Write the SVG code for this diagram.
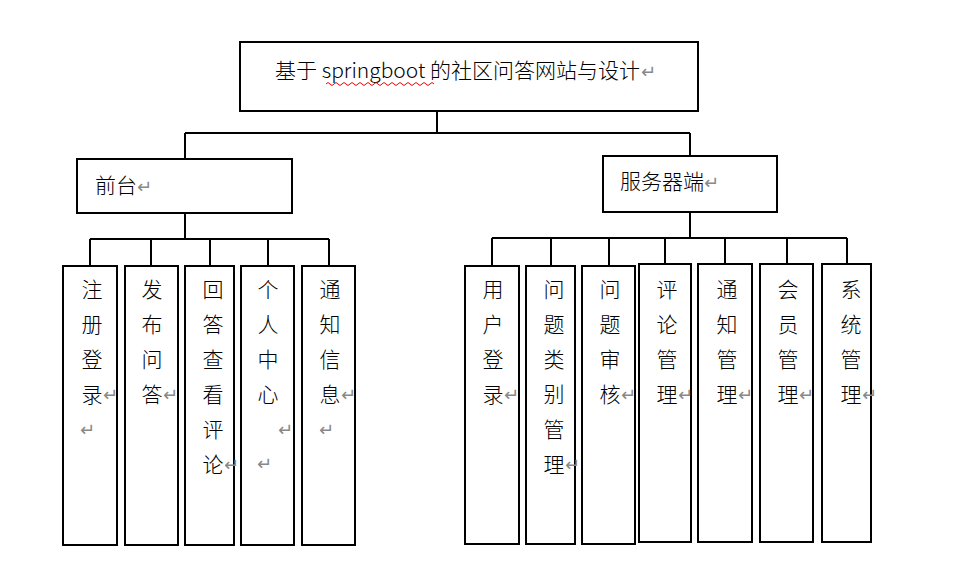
<svg xmlns="http://www.w3.org/2000/svg" width="955" height="564" viewBox="0 0 955 564">
<style>
.b{fill:#fff;stroke:#000;stroke-width:2}
.c{fill:none;stroke:#000;stroke-width:2}
.t{font-family:"Noto Sans CJK SC","Liberation Sans",sans-serif;font-size:21px;font-weight:300;fill:#000;text-anchor:middle}
.h{font-family:"Noto Sans CJK SC","Liberation Sans",sans-serif;font-size:21px;font-weight:300;fill:#000}
.r{font-family:"DejaVu Sans",sans-serif;font-size:18px;font-weight:400;fill:#888}
</style>
<rect width="955" height="564" fill="#fff"/>
<g id="connectors">
<path class="c" d="M437 111V133M185 133H690M185 133V159M690 133V156"/>
<path class="c" d="M185 213V239M90 239H329M90 239V266M151 239V266M210 239V266M268 239V266M329 239V266"/>
<path class="c" d="M690 212V238M492 238H847M492 238V266M551 238V266M609 238V266M665 238V264M725 238V264M787 238V264M847 238V264"/>
</g>
<g id="root"><rect class="b" x="240" y="42" width="458" height="69"/>
<text class="h" x="275" y="78">基于 springboot 的社区问答网站与设计<tspan class="r" dx="1">↵</tspan></text>
<path d="M326 84q2-3 4 0t4 0 4 0 4 0 4 0 4 0 4 0 4 0 4 0 4 0 4 0 4 0 4 0 4 0 4 0 4 0 4 0 4 0 4 0 4 0 4 0 4 0 4 0 4 0 4 0 4 0 4 0" fill="none" stroke="#e00" stroke-width="1"/></g>
<g id="frontend"><rect class="b" x="77" y="159" width="215" height="54"/><text class="h" x="95" y="193">前台<tspan class="r">↵</tspan></text></g>
<g id="server"><rect class="b" x="603" y="156" width="174" height="56"/><text class="h" x="620" y="189">服务器端<tspan class="r">↵</tspan></text></g>
<g id="n1"><rect class="b" x="63" y="266" width="54" height="279"/><text class="t"><tspan x="92" y="297">注</tspan><tspan x="92" dy="35">册</tspan><tspan x="92" dy="35">登</tspan><tspan x="92" dy="35">录</tspan></text><text class="r" x="103" y="401">↵</text><text class="r" x="80" y="436">↵</text></g>
<g id="n2"><rect class="b" x="125" y="266" width="53" height="279"/><text class="t"><tspan x="152" y="297">发</tspan><tspan x="152" dy="35">布</tspan><tspan x="152" dy="35">问</tspan><tspan x="152" dy="35">答</tspan></text><text class="r" x="163" y="401">↵</text></g>
<g id="n3"><rect class="b" x="185" y="266" width="49" height="279"/><text class="t"><tspan x="213" y="297">回</tspan><tspan x="213" dy="35">答</tspan><tspan x="213" dy="35">查</tspan><tspan x="213" dy="35">看</tspan><tspan x="213" dy="35">评</tspan><tspan x="213" dy="35">论</tspan></text><text class="r" x="224" y="471">↵</text></g>
<g id="n4"><rect class="b" x="241" y="266" width="53" height="279"/><text class="t"><tspan x="268" y="297">个</tspan><tspan x="268" dy="35">人</tspan><tspan x="268" dy="35">中</tspan><tspan x="268" dy="35">心</tspan></text><text class="r" x="278" y="436">↵</text><text class="r" x="257" y="470">↵</text></g>
<g id="n5"><rect class="b" x="302" y="266" width="53" height="279"/><text class="t"><tspan x="330" y="297">通</tspan><tspan x="330" dy="35">知</tspan><tspan x="330" dy="35">信</tspan><tspan x="330" dy="35">息</tspan></text><text class="r" x="341" y="401">↵</text><text class="r" x="319" y="436">↵</text></g>
<g id="s1"><rect class="b" x="465" y="266" width="54" height="278"/><text class="t"><tspan x="493" y="297">用</tspan><tspan x="493" dy="35">户</tspan><tspan x="493" dy="35">登</tspan><tspan x="493" dy="35">录</tspan></text><text class="r" x="504" y="401">↵</text></g>
<g id="s2"><rect class="b" x="526" y="266" width="49" height="278"/><text class="t"><tspan x="554" y="297">问</tspan><tspan x="554" dy="35">题</tspan><tspan x="554" dy="35">类</tspan><tspan x="554" dy="35">别</tspan><tspan x="554" dy="35">管</tspan><tspan x="554" dy="35">理</tspan></text><text class="r" x="565" y="471">↵</text></g>
<g id="s3"><rect class="b" x="582" y="266" width="53" height="278"/><text class="t"><tspan x="610" y="297">问</tspan><tspan x="610" dy="35">题</tspan><tspan x="610" dy="35">审</tspan><tspan x="610" dy="35">核</tspan></text><text class="r" x="621" y="401">↵</text></g>
<g id="s4"><rect class="b" x="639" y="264" width="52" height="278"/><text class="t"><tspan x="667" y="297">评</tspan><tspan x="667" dy="35">论</tspan><tspan x="667" dy="35">管</tspan><tspan x="667" dy="35">理</tspan></text><text class="r" x="678" y="401">↵</text></g>
<g id="s5"><rect class="b" x="698" y="264" width="54" height="278"/><text class="t"><tspan x="727" y="297">通</tspan><tspan x="727" dy="35">知</tspan><tspan x="727" dy="35">管</tspan><tspan x="727" dy="35">理</tspan></text><text class="r" x="738" y="401">↵</text></g>
<g id="s6"><rect class="b" x="760" y="264" width="53" height="278"/><text class="t"><tspan x="788" y="297">会</tspan><tspan x="788" dy="35">员</tspan><tspan x="788" dy="35">管</tspan><tspan x="788" dy="35">理</tspan></text><text class="r" x="799" y="401">↵</text></g>
<g id="s7"><rect class="b" x="822" y="264" width="49" height="278"/><text class="t"><tspan x="851" y="297">系</tspan><tspan x="851" dy="35">统</tspan><tspan x="851" dy="35">管</tspan><tspan x="851" dy="35">理</tspan></text><text class="r" x="862" y="401">↵</text></g>
</svg>
